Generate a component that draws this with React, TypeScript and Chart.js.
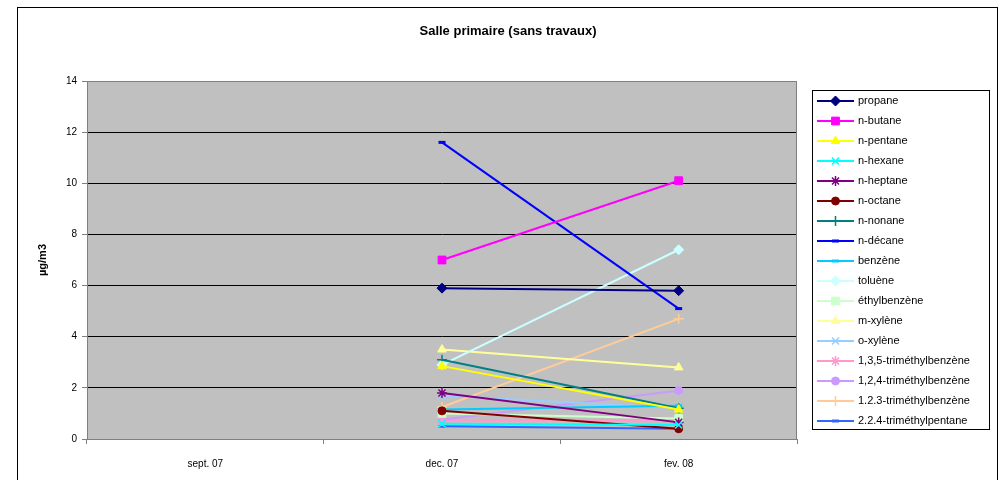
import React, { useEffect, useRef } from 'react';
import { Chart, registerables } from 'chart.js';
import { drawPoint } from 'chart.js/helpers';

Chart.register(...registerables);

const categories = ['sept. 07', 'dec. 07', 'fev. 08'];
const seriesNames = [
  'propane', 'n-butane', 'n-pentane', 'n-hexane', 'n-heptane', 'n-octane', 'n-nonane', 'n-décane',
  'benzène', 'toluène', 'éthylbenzène', 'm-xylène', 'o-xylène',
  '1,3,5-triméthylbenzène', '1,2,4-triméthylbenzène', '1.2.3-triméthylbenzène', '2.2.4-triméthylpentane',
];
const septValues = [null, null, null, null, null, null, null, null, null, null, null, null, null, null, null, null, null];
const decValues = [5.9, 7.0, 2.85, 0.6, 1.8, 1.1, 3.1, 11.6, 1.15, 2.9, 1.0, 3.5, 1.7, 0.7, 0.75, 1.25, 0.5];
const fevValues = [5.8, 10.1, 1.15, 0.55, 0.65, 0.4, 1.2, 5.1, 1.3, 7.4, 0.8, 2.8, 1.2, 0.75, 1.9, 4.7, 0.4];
const seriesColors = [
  '#000080', '#FF00FF', '#FFFF00', '#00FFFF', '#800080', '#800000', '#008080', '#0000FF',
  '#00CCFF', '#CCFFFF', '#CCFFCC', '#FFFF99', '#99CCFF', '#FF99CC', '#CC99FF', '#FFCC99', '#3366FF',
];
const seriesMarkers = [
  'rectRot', 'rect', 'triangle', 'crossRot', 'star', 'circle', 'cross', 'line',
  'line', 'rectRot', 'rect', 'triangle', 'crossRot', 'star', 'circle', 'cross', 'line',
];
const yTickValues = [0, 2, 4, 6, 8, 10, 12, 14];
const chartTitle = 'Salle primaire (sans travaux)';
const yAxisTitle = 'µg/m3';

const FONT = "'Liberation Sans', Arial, sans-serif";

function markerRadius(style: string) {
  if (style === 'line') return 3.5;
  if (style === 'circle') return 4;
  if (style === 'rect') return 5.5;
  return 5;
}
function markerBorder(style: string) {
  if (style === 'line') return 3;
  if (style === 'cross' || style === 'crossRot' || style === 'star') return 1.5;
  return 1;
}

const decorPlugin = {
  id: 'decor',
  beforeDraw(chart: any) {
    const { ctx, chartArea } = chart;
    ctx.save();
    ctx.fillStyle = '#FFFFFF';
    ctx.fillRect(0, 0, chart.width, chart.height);
    ctx.strokeStyle = '#000000';
    ctx.lineWidth = 1;
    ctx.strokeRect(17.5, 7.5, 980, 480);
    ctx.fillStyle = '#C0C0C0';
    ctx.fillRect(chartArea.left, chartArea.top, chartArea.right - chartArea.left, chartArea.bottom - chartArea.top);
    ctx.restore();
  },
  afterDraw(chart: any) {
    const { ctx, chartArea } = chart;
    ctx.save();
    ctx.strokeStyle = '#808080';
    ctx.lineWidth = 1;
    ctx.strokeRect(chartArea.left + 0.5, chartArea.top + 0.5, chartArea.right - chartArea.left - 1, chartArea.bottom - chartArea.top);

    // title
    ctx.fillStyle = '#000000';
    ctx.font = `bold 13px ${FONT}`;
    ctx.textAlign = 'center';
    ctx.textBaseline = 'middle';
    ctx.fillText(chartTitle, 508, 31);

    // y title
    ctx.save();
    ctx.translate(43, (chartArea.top + chartArea.bottom) / 2);
    ctx.rotate(-Math.PI / 2);
    ctx.font = `bold 11px ${FONT}`;
    ctx.fillText(yAxisTitle, 0, 0);
    ctx.restore();

    // legend
    const lx = 812, ly = 90, lw = 177, lh = 339;
    ctx.fillStyle = '#FFFFFF';
    ctx.fillRect(lx, ly, lw, lh);
    ctx.strokeStyle = '#000000';
    ctx.strokeRect(lx + 0.5, ly + 0.5, lw, lh);
    chart.data.datasets.forEach((ds: any, i: number) => {
      const y = 101 + i * 20;
      ctx.strokeStyle = ds.borderColor;
      ctx.lineWidth = 2;
      ctx.beginPath();
      ctx.moveTo(817, y);
      ctx.lineTo(854, y);
      ctx.stroke();
      ctx.fillStyle = ds.borderColor;
      ctx.strokeStyle = ds.borderColor;
      ctx.lineWidth = ds.pointBorderWidth;
      drawPoint(ctx, { pointStyle: ds.pointStyle, rotation: 0, radius: ds.pointRadius, borderWidth: ds.pointBorderWidth }, 835.5, y);
      ctx.fillStyle = '#000000';
      ctx.font = `11px ${FONT}`;
      ctx.textAlign = 'left';
      ctx.textBaseline = 'middle';
      ctx.fillText(ds.label, 858, y);
    });
    ctx.restore();
  },
};

export default function App() {
  const ref = useRef<HTMLCanvasElement>(null);
  useEffect(() => {
    if (!ref.current) return;
    const datasets = seriesNames.map((name, i) => ({
      label: name,
      data: [septValues[i], decValues[i], fevValues[i]],
      borderColor: seriesColors[i],
      backgroundColor: seriesColors[i],
      borderWidth: 2,
      pointStyle: seriesMarkers[i],
      pointRadius: markerRadius(seriesMarkers[i]),
      pointBorderWidth: markerBorder(seriesMarkers[i]),
      pointBackgroundColor: seriesColors[i],
      pointBorderColor: seriesColors[i],
      tension: 0,
      spanGaps: false,
    }));
    const chart = new Chart(ref.current, {
      type: 'line',
      data: { labels: categories, datasets },
      plugins: [decorPlugin],
      options: {
        animation: false,
        responsive: false,
        devicePixelRatio: 1,
        layout: { padding: { left: 0, top: 81, right: 206, bottom: 0 } },
        plugins: { legend: { display: false }, tooltip: { enabled: false }, title: { display: false } },
        scales: {
          x: {
            type: 'category',
            offset: true,
            afterFit: (s: any) => { s.height = 41; },
            grid: { offset: true, drawOnChartArea: false, drawTicks: true, tickLength: 5, color: '#808080' },
            border: { color: '#808080', width: 1 },
            ticks: { color: '#000000', font: { family: FONT, size: 10 }, padding: 14, maxRotation: 0 },
          },
          y: {
            min: 0,
            max: 14,
            afterFit: (s: any) => { s.width = 87; },
            afterBuildTicks: (s: any) => { s.ticks = yTickValues.map((v) => ({ value: v })); },
            grid: {
              color: (c: any) => (c.tick && (c.tick.value === 14 || c.tick.value === 0) ? '#808080' : '#000000'),
              tickColor: '#808080',
              tickLength: 5,
              drawTicks: true,
            },
            border: { color: '#808080', width: 1 },
            ticks: { color: '#000000', font: { family: FONT, size: 10 }, padding: 5 },
          },
        },
      } as any,
    });
    return () => chart.destroy();
  }, []);
  return (
    <div style={{ position: 'absolute', left: 0, top: 0, width: 1003, height: 480 }}>
      <canvas ref={ref} width={1003} height={480} style={{ display: 'block', width: 1003, height: 480 }} />
    </div>
  );
}
